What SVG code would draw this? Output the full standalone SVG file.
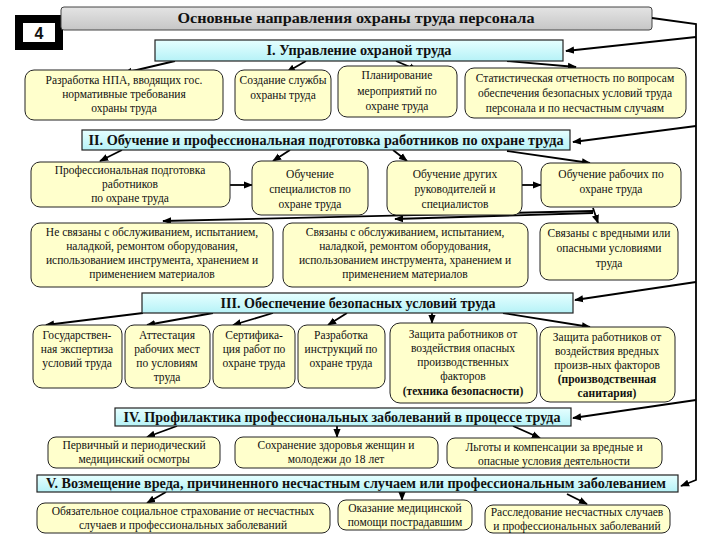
<svg xmlns="http://www.w3.org/2000/svg" width="720" height="540" viewBox="0 0 720 540">
<style>
.n rect{fill:#ffffcc;stroke:#222;stroke-width:1}
.s rect{fill:url(#cy);stroke:#222;stroke-width:1.2}
text{font-family:"Liberation Serif","Times New Roman",serif;fill:#111;text-anchor:middle}
.t{font-size:11.5px}
.b{font-weight:bold}
.h{font-size:14px;font-weight:bold}
#conn line,#conn polyline{stroke:#000;stroke-width:1.8;fill:none}
.a{marker-end:url(#ah)}
</style>
<defs>
<linearGradient id="cy" x1="0" y1="0" x2="0" y2="1"><stop offset="0" stop-color="#e6ffff"/><stop offset="1" stop-color="#b6f2f7"/></linearGradient>
<linearGradient id="gr" x1="0" y1="0" x2="0" y2="1"><stop offset="0" stop-color="#e4e4e4"/><stop offset="1" stop-color="#c6c6c6"/></linearGradient>
<marker id="ah" viewBox="0 0 10 10" markerWidth="5" markerHeight="5" refX="9" refY="5" orient="auto"><path d="M0,1 L10,5 L0,9 z" fill="#000"/></marker>
</defs>
<rect width="720" height="540" fill="#fff"/>

<g id="num">
<rect x="19" y="19" width="40" height="27" fill="#fff" stroke="#000" stroke-width="8"/>
<text x="39" y="39" style="font-family:'Liberation Sans',Arial,sans-serif;font-size:16px;font-weight:bold">4</text>
</g>

<g id="title">
<rect x="61" y="7" width="591" height="23" rx="3" fill="url(#gr)" stroke="#444" stroke-width="1"/>
<text x="356" y="23" style="font-size:15px;font-weight:bold" textLength="357" lengthAdjust="spacingAndGlyphs">Основные направления охраны труда персонала</text>
</g>

<g id="conn">
<polyline points="652,18 696,24 696,480 681,486" class="a"/>
<line x1="696" y1="37" x2="566" y2="51" class="a"/>
<line x1="696" y1="126" x2="573" y2="142" class="a"/>
<line x1="696" y1="282" x2="575" y2="300" class="a"/>
<line x1="696" y1="400" x2="573" y2="418" class="a"/>
<!-- I -->
<line x1="175" y1="61" x2="124" y2="73" class="a"/>
<line x1="306" y1="61" x2="287" y2="72" class="a"/>
<line x1="396" y1="61" x2="417" y2="70" class="a"/>
<line x1="507" y1="61" x2="576" y2="67" class="a"/>
<!-- II -->
<line x1="122" y1="150" x2="100" y2="161" class="a"/>
<line x1="290" y1="150" x2="273" y2="161" class="a"/>
<line x1="393" y1="150" x2="407" y2="161" class="a"/>
<line x1="507" y1="151" x2="590" y2="163" class="a"/>
<line x1="230" y1="185" x2="252" y2="185" class="a"/>
<line x1="522" y1="185" x2="541" y2="185" class="a"/>
<line x1="593" y1="208" x2="598" y2="223" class="a"/>
<line x1="593" y1="211" x2="163" y2="221" class="a"/>
<line x1="593" y1="213" x2="395" y2="219" class="a"/>
<!-- III -->
<line x1="143" y1="313" x2="46" y2="325" class="a"/>
<line x1="213" y1="313" x2="147" y2="325" class="a"/>
<line x1="273" y1="313" x2="233" y2="325" class="a"/>
<line x1="347" y1="313" x2="328" y2="325" class="a"/>
<line x1="432" y1="313" x2="432" y2="323" class="a"/>
<line x1="503" y1="313" x2="590" y2="327" class="a"/>
<!-- IV -->
<line x1="177" y1="426" x2="147" y2="437" class="a"/>
<line x1="337" y1="426" x2="337" y2="437" class="a"/>
<line x1="513" y1="426" x2="540" y2="438" class="a"/>
<!-- V -->
<line x1="166" y1="492" x2="147" y2="503" class="a"/>
<line x1="402" y1="492" x2="402" y2="500" class="a"/>
<line x1="567" y1="494" x2="587" y2="504" class="a"/>
</g>

<g id="sec1" class="s"><rect x="155" y="40" width="408" height="21"/><text x="359" y="55" class="h" textLength="185" lengthAdjust="spacingAndGlyphs">I. Управление охраной труда</text></g>
<g id="sec2" class="s"><rect x="82" y="130" width="488" height="20"/><text x="326" y="145" class="h" textLength="475" lengthAdjust="spacingAndGlyphs">II. Обучение и профессиональная подготовка работников по охране труда</text></g>
<g id="sec3" class="s"><rect x="142" y="293" width="431" height="20"/><text x="358" y="308" class="h" textLength="275" lengthAdjust="spacingAndGlyphs">III. Обеспечение безопасных условий труда</text></g>
<g id="sec4" class="s"><rect x="115" y="408" width="456" height="18"/><text x="342" y="422" class="h" textLength="437" lengthAdjust="spacingAndGlyphs">IV. Профилактика профессиональных заболеваний в процессе труда</text></g>
<g id="sec5" class="s"><rect x="37" y="475" width="641" height="17"/><text x="356" y="488" class="h" textLength="620" lengthAdjust="spacingAndGlyphs">V. Возмещение вреда, причиненного несчастным случаем или профессиональным заболеванием</text></g>

<!-- Row I -->
<g id="n1a" class="n"><rect x="25" y="70" width="198" height="50" rx="9"/>
<text class="t" x="124" y="84">Разработка НПА, вводящих гос.</text><text class="t" x="124" y="98">нормативные требования</text><text class="t" x="124" y="112">охраны труда</text></g>
<g id="n1b" class="n"><rect x="235" y="70" width="96" height="50" rx="9"/>
<text class="t" x="283" y="84">Создание службы</text><text class="t" x="283" y="99">охраны труда</text></g>
<g id="n1c" class="n"><rect x="338" y="66" width="119" height="51" rx="9"/>
<text class="t" x="397" y="79">Планирование</text><text class="t" x="397" y="95">мероприятий по</text><text class="t" x="397" y="110">охране труда</text></g>
<g id="n1d" class="n"><rect x="465" y="68" width="221" height="50" rx="9"/>
<text class="t" x="575" y="82">Статистическая отчетность по вопросам</text><text class="t" x="575" y="97">обеспечения безопасных условий труда</text><text class="t" x="575" y="112">персонала и по несчастным случаям</text></g>

<!-- Row II -->
<g id="n2a" class="n"><rect x="31" y="162" width="199" height="45" rx="9"/>
<text class="t" x="130" y="174">Профессиональная подготовка</text><text class="t" x="130" y="188">работников</text><text class="t" x="130" y="202">по охране труда</text></g>
<g id="n2b" class="n"><rect x="252" y="161" width="116" height="54" rx="9"/>
<text class="t" x="310" y="178">Обучение</text><text class="t" x="310" y="193">специалистов по</text><text class="t" x="310" y="208">охране труда</text></g>
<g id="n2c" class="n"><rect x="387" y="161" width="135" height="54" rx="9"/>
<text class="t" x="455" y="178">Обучение других</text><text class="t" x="455" y="193">руководителей и</text><text class="t" x="455" y="208">специалистов</text></g>
<g id="n2d" class="n"><rect x="541" y="163" width="140" height="44" rx="9"/>
<text class="t" x="611" y="178">Обучение рабочих  по</text><text class="t" x="611" y="193">охране труда</text></g>
<g id="n2e" class="n"><rect x="31" y="223" width="242" height="64" rx="9"/>
<text class="t" x="152" y="236">Не связаны с обслуживанием, испытанием,</text><text class="t" x="152" y="250">наладкой, ремонтом оборудования,</text><text class="t" x="152" y="264">использованием инструмента, хранением и</text><text class="t" x="152" y="278">применением материалов</text></g>
<g id="n2f" class="n"><rect x="283" y="223" width="245" height="64" rx="9"/>
<text class="t" x="405" y="236">Связаны с обслуживанием, испытанием,</text><text class="t" x="405" y="250">наладкой, ремонтом оборудования,</text><text class="t" x="405" y="264">использованием инструмента, хранением и</text><text class="t" x="405" y="278">применением материалов</text></g>
<g id="n2g" class="n"><rect x="540" y="223" width="138" height="57" rx="9"/>
<text class="t" x="609" y="237">Связаны с вредными или</text><text class="t" x="609" y="252">опасными условиями</text><text class="t" x="609" y="267">труда</text></g>

<!-- Row III -->
<g id="n3a" class="n"><rect x="33" y="325" width="89" height="63" rx="9"/>
<text class="t" x="77" y="339">Государствен-</text><text class="t" x="77" y="353">ная экспертиза</text><text class="t" x="77" y="367">условий труда</text></g>
<g id="n3b" class="n"><rect x="125" y="325" width="85" height="63" rx="9"/>
<text class="t" x="167" y="339">Аттестация</text><text class="t" x="167" y="353">рабочих мест</text><text class="t" x="167" y="367">по условиям</text><text class="t" x="167" y="381">труда</text></g>
<g id="n3c" class="n"><rect x="213" y="325" width="82" height="63" rx="9"/>
<text class="t" x="254" y="339">Сертифика-</text><text class="t" x="254" y="353">ция работ по</text><text class="t" x="254" y="367">охране труда</text></g>
<g id="n3d" class="n"><rect x="298" y="325" width="87" height="63" rx="9"/>
<text class="t" x="341" y="339">Разработка</text><text class="t" x="341" y="353">инструкций по</text><text class="t" x="341" y="367">охране труда</text></g>
<g id="n3e" class="n"><rect x="390" y="323" width="147" height="80" rx="10"/>
<text class="t" x="463" y="338">Защита работников от</text><text class="t" x="463" y="352">воздействия опасных</text><text class="t" x="463" y="366">производственных</text><text class="t" x="463" y="380">факторов</text><text class="t b" x="463" y="395">(техника безопасности)</text></g>
<g id="n3f" class="n"><rect x="540" y="327" width="135" height="75" rx="10"/>
<text class="t" x="607" y="341">Защита работников от</text><text class="t" x="607" y="355">воздействия вредных</text><text class="t" x="607" y="369">произв-ных факторов</text><text class="t b" x="607" y="383">(производственная</text><text class="t b" x="607" y="397">санитария)</text></g>

<!-- Row IV -->
<g id="n4a" class="n"><rect x="48" y="437" width="172" height="31" rx="8"/>
<text class="t" x="134" y="449">Первичный и периодический</text><text class="t" x="134" y="463">медицинский осмотры</text></g>
<g id="n4b" class="n"><rect x="235" y="437" width="203" height="31" rx="8"/>
<text class="t" x="336" y="449">Сохранение здоровья женщин и</text><text class="t" x="336" y="463">молодежи до 18 лет</text></g>
<g id="n4c" class="n"><rect x="447" y="438" width="215" height="30" rx="8"/>
<text class="t" x="554" y="451">Льготы и компенсации за вредные и</text><text class="t" x="554" y="465">опасные условия деятельности</text></g>

<!-- Row V -->
<g id="n5a" class="n"><rect x="37" y="503" width="293" height="30" rx="8"/>
<text class="t" x="183" y="515">Обязательное социальное страхование от несчастных</text><text class="t" x="183" y="529">случаев и профессиональных заболеваний</text></g>
<g id="n5b" class="n"><rect x="338" y="500" width="134" height="30" rx="8"/>
<text class="t" x="405" y="512">Оказание медицинской</text><text class="t" x="405" y="526">помощи пострадавшим</text></g>
<g id="n5c" class="n"><rect x="485" y="505" width="185" height="28" rx="8"/>
<text class="t" x="577" y="516">Расследование несчастных случаев</text><text class="t" x="577" y="530">и профессиональных заболеваний</text></g>
</svg>
